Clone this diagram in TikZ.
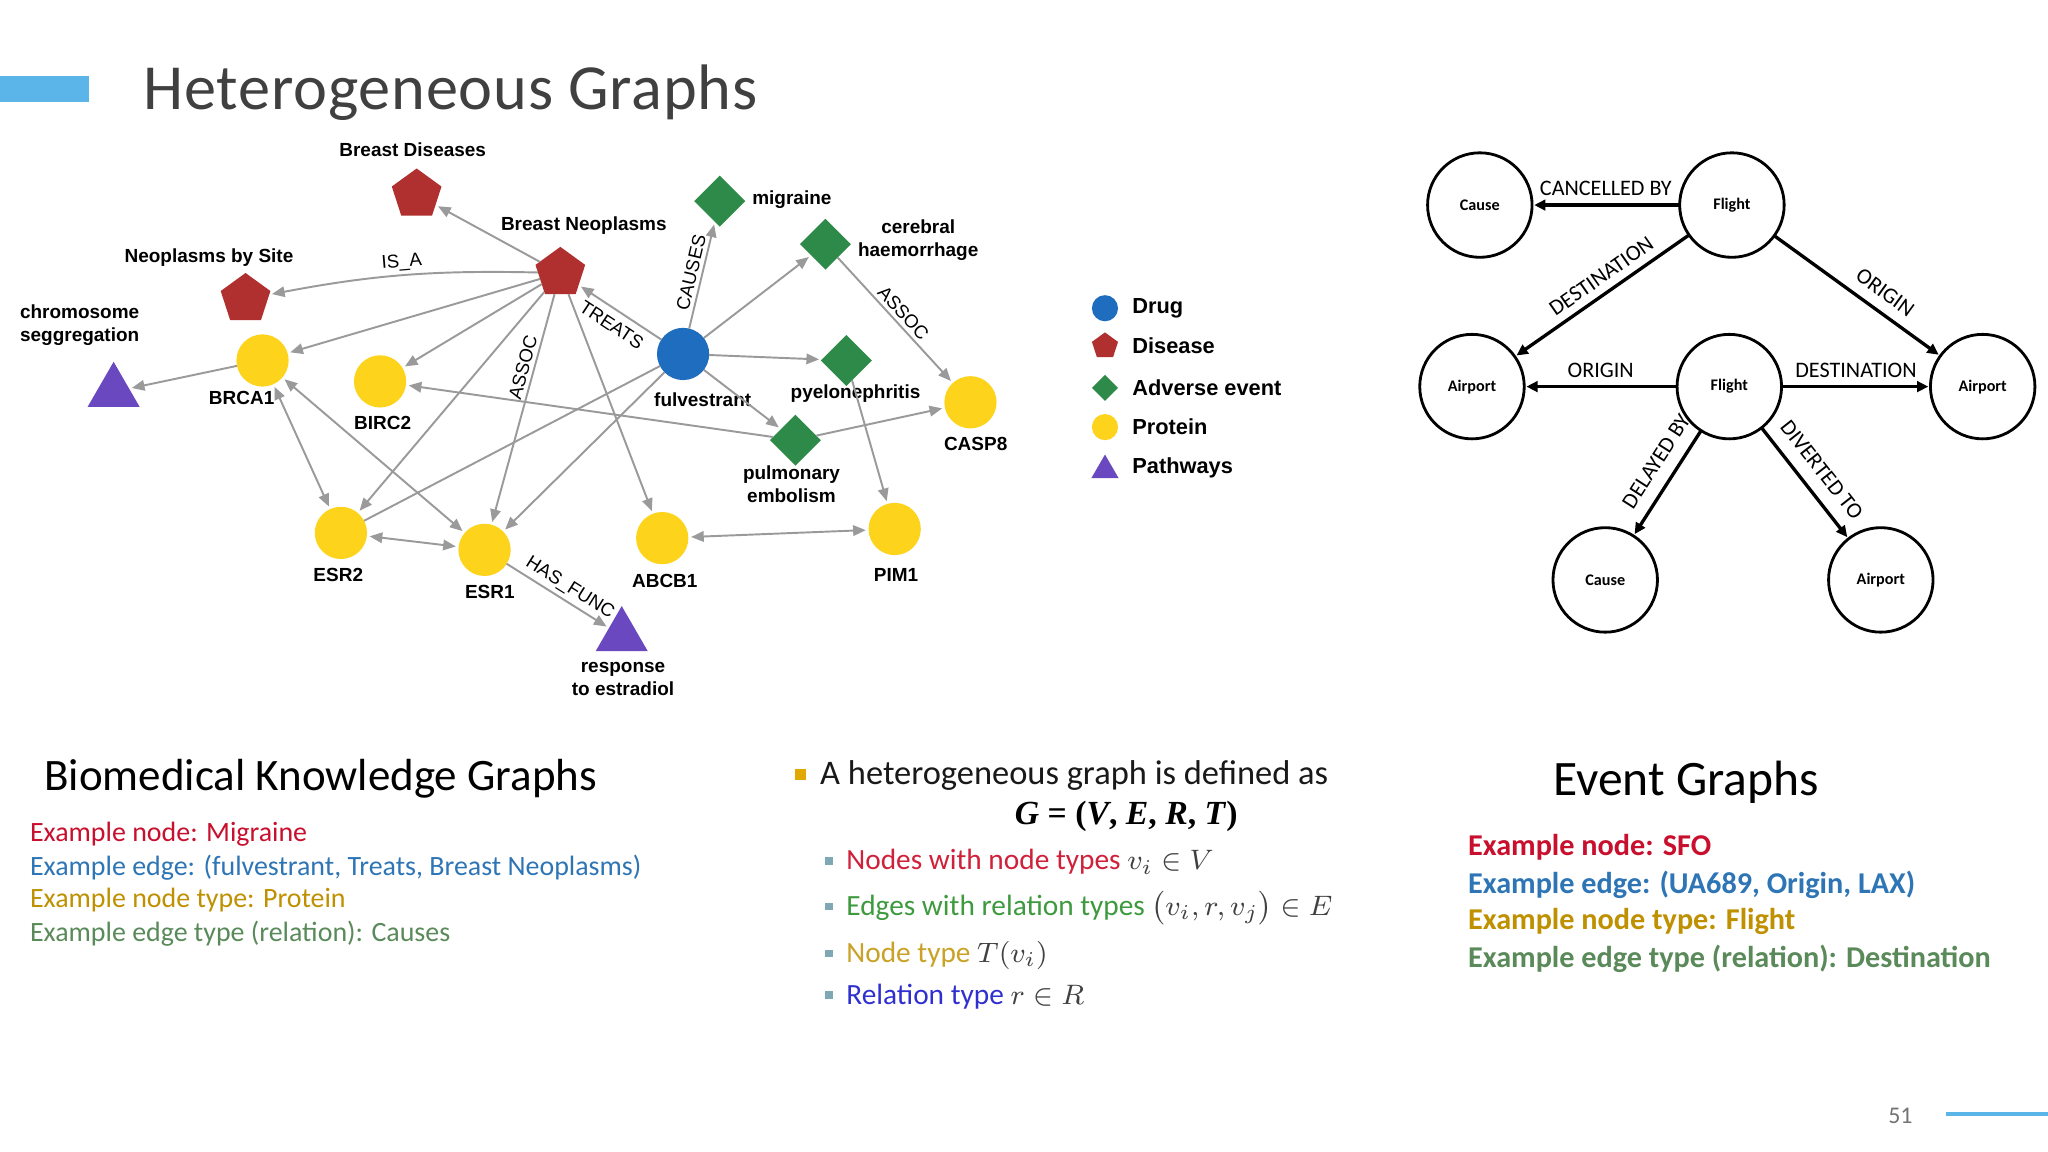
\documentclass[tikz,border=0pt]{standalone}
\usepackage{amsmath}
\usepackage{fontspec}
\setmainfont{Carlito}
\newfontfamily\hv{Liberation Sans}
\newfontfamily\lser{Liberation Serif}
\usetikzlibrary{shapes.geometric,arrows.meta}
\def\pxu{0.0130612cm}
\definecolor{protY}{HTML}{FDD31C}
\definecolor{drugB}{HTML}{1F6DBF}
\definecolor{disR}{HTML}{B02F2F}
\definecolor{advG}{HTML}{2E8A48}
\definecolor{pathP}{HTML}{6A48C0}
\definecolor{edgeG}{HTML}{9A9A9A}
\definecolor{barB}{HTML}{5BB5E8}
\definecolor{titleC}{HTML}{404040}
\definecolor{exRed}{HTML}{C8102E}
\definecolor{exBlue}{HTML}{2E75B6}
\definecolor{exGold}{HTML}{BF9000}
\definecolor{exGreen}{HTML}{5A8A5A}
\definecolor{subRed}{HTML}{D0213A}
\definecolor{subGreen}{HTML}{3E9A3E}
\definecolor{subGold}{HTML}{C9A227}
\definecolor{relBlue}{HTML}{3030D0}
\definecolor{mathC}{HTML}{404040}
\definecolor{bulGold}{HTML}{E0A800}
\definecolor{bulTeal}{HTML}{7FA7B5}
\begin{document}
\begin{tikzpicture}[x=0.0130612cm,y=-0.0130612cm,
  every node/.style={inner sep=0pt,outer sep=0pt},
  prot/.style={circle,fill=protY,minimum size={40*\pxu}},
  drug/.style={circle,fill=drugB,minimum size={40*\pxu}},
  dis/.style={regular polygon,regular polygon sides=5,fill=disR,minimum size={40*\pxu}},
  adv/.style={diamond,fill=advG,minimum width={39*\pxu},minimum height={39*\pxu}},
  pathw/.style={regular polygon,regular polygon sides=3,fill=pathP,minimum size={46*\pxu}},
  glab/.style={font=\hv\bfseries\fontsize{5.4}{6.6}\selectfont,align=center},
  leglab/.style={font=\hv\bfseries\fontsize{6.2}{7}\selectfont,anchor=west},
  elab/.style={font=\hv\fontsize{5.3}{6}\selectfont,sloped,inner sep=1.3pt},
  kg/.style={draw=edgeG,line width=0.55pt,-{Triangle[length=3.6pt,width=3pt]},shorten >=0.8pt},
  kgd/.style={draw=edgeG,line width=0.55pt,{Triangle[length=3.6pt,width=3pt]}-{Triangle[length=3.6pt,width=3pt]},shorten >=0.8pt,shorten <=0.8pt},
  ev/.style={circle,draw=black,line width=0.8pt,minimum size={80*\pxu},font=\bfseries\fontsize{4.6}{5}\selectfont},
  earr/.style={draw=black,line width=0.95pt,-{Triangle[length=3.2pt,width=3pt]},shorten >=0.6pt},
  evlab/.style={font=\fontsize{6.3}{7}\selectfont,sloped,above,inner sep=2.6pt},
  txt/.style={anchor=base west}
]
\useasboundingbox (0,0) rectangle (1568,882);
\fill[white] (0,0) rectangle (1568,882);

% title
\fill[barB] (0,58) rectangle (68,78);
\node[txt,font=\fontsize{18.3}{22}\selectfont\addfontfeatures{LetterSpace=1.2},text=titleC] (title) at (110,84) {Heterogeneous Graphs};

% ---------- biomedical graph nodes ----------
\node[dis] (BD) at (319,149) {};
\node[dis] (BN) at (429,209) {};
\node[dis] (NS) at (188,229) {};
\node[pathw] (CS) at (87,300) {};
\node[prot] (BRCA1) at (201,276) {};
\node[prot] (BIRC2) at (291,292) {};
\node[prot] (ESR2) at (261,408) {};
\node[prot] (ESR1) at (371,421) {};
\node[pathw] (RE) at (476,487) {};
\node[prot] (ABCB1) at (507,412) {};
\node[prot] (PIM1) at (685,405) {};
\node[drug] (FUL) at (523,271) {};
\node[adv] (MIG) at (551,154) {};
\node[adv] (CH) at (632,187) {};
\node[adv] (PYE) at (648,276) {};
\node[adv] (PE) at (609,337) {};
\node[prot] (CASP8) at (743,308) {};

% labels
\node[glab] (lBD) at (316,115) {Breast Diseases};
\node[glab] (lBN) at (447,173) {Breast Neoplasms};
\node[glab] (lNS) at (160,197) {Neoplasms by Site};
\node[glab] (lCS) at (61,249) {chromosome\\seggregation};
\node[glab] (lBRCA1) at (185,305) {BRCA1};
\node[glab] (lBIRC2) at (293,324) {BIRC2};
\node[glab] (lESR2) at (259,440) {ESR2};
\node[glab] (lESR1) at (375,453) {ESR1};
\node[glab] (lRE) at (477,520) {response\\to estradiol};
\node[glab] (lABCB1) at (509,445) {ABCB1};
\node[glab] (lPIM1) at (686,440) {PIM1};
\node[glab] (lFUL) at (538,306) {fulvestrant};
\node[glab,anchor=west] (lMIG) at (576,153) {migraine};
\node[glab] (lCH) at (703,184) {cerebral\\haemorrhage};
\node[glab] (lPYE) at (655,301) {pyelonephritis};
\node[glab] (lPE) at (606,371) {pulmonary\\embolism};
\node[glab] (lCASP8) at (747,340) {CASP8};

% edges
\draw[kg] (BN) -- (BD);
\draw[kg] (BN) to[bend right=6] node[elab,above,pos=0.5] {IS\_A} (NS);
\draw[kg] (BN) -- (BRCA1);
\draw[kg] (BN) -- (BIRC2);
\draw[kg] (BN) -- (ESR2);
\draw[kg] (BN) -- node[elab,above,pos=0.33] {ASSOC} (ESR1);
\draw[kg] (BN) -- (ABCB1);
\draw[kg] (FUL) -- node[elab,below,pos=0.5,inner sep=2.4pt] {TREATS} (BN);
\draw[kg] (FUL) -- node[elab,above,pos=0.5] {CAUSES} (MIG);
\draw[kg] (FUL) -- (CH);
\draw[kg] (FUL) -- (PYE);
\draw[kg] (FUL) -- (PE);
\draw[kg] (FUL) -- (ESR1);
\draw[draw=edgeG,line width=0.55pt] (FUL) -- (ESR2);
\draw[kg] (PE) -- (BIRC2);
\draw[kg] (PE) -- (CASP8);
\draw[kg] (CH) -- node[elab,above,pos=0.5] {ASSOC} (CASP8);
\draw[kg] (PYE) -- (PIM1);
\draw[kgd] (ABCB1) -- (PIM1);
\draw[kg] (BRCA1) -- (CS);
\draw[kgd] (BRCA1) -- (ESR2);
\draw[kgd] (BRCA1) -- (ESR1);
\draw[kgd] (ESR2) -- (ESR1);
\draw[kg] (ESR1) -- node[elab,above,pos=0.55] {HAS\_FUNC} (RE);

% legend
\node[drug,minimum size={20*\pxu}] (kDrug) at (846,236) {};
\node[dis,minimum size={21*\pxu}] (kDis) at (846,265) {};
\node[adv,minimum width={20*\pxu},minimum height={20*\pxu}] (kAdv) at (846,297) {};
\node[prot,minimum size={20*\pxu}] (kProt) at (846,327) {};
\node[pathw,minimum size={24*\pxu}] (kPath) at (846,360) {};
\node[leglab] (tDrug) at (867,236) {Drug};
\node[leglab] (tDis) at (867,265) {Disease};
\node[leglab] (tAdv) at (867,297) {Adverse event};
\node[leglab] (tProt) at (867,327) {Protein};
\node[leglab] (tPath) at (867,358) {Pathways};

% ---------- event graph ----------
\node[ev] (C1) at (1133,157) {Cause};
\node[ev] (F1) at (1326,157) {Flight};
\node[ev] (A1) at (1127,296) {Airport};
\node[ev] (F2) at (1324,296) {Flight};
\node[ev] (A2) at (1518,296) {Airport};
\node[ev] (C2) at (1229,444) {Cause};
\node[ev] (A3) at (1440,444) {Airport};
\draw[earr] (F1) -- node[evlab] {CANCELLED BY} (C1);
\draw[earr] (F1) -- node[evlab,pos=0.45] {DESTINATION} (A1);
\draw[earr] (F1) -- node[evlab,pos=0.6,inner sep=3.4pt] {ORIGIN} (A2);
\draw[earr] (F2) -- node[evlab] {ORIGIN} (A1);
\draw[earr] (F2) -- node[evlab] {DESTINATION} (A2);
\draw[earr] (F2) -- node[evlab,pos=0.4,inner sep=4pt] {DELAYED BY} (C2);
\draw[earr] (F2) -- node[evlab,pos=0.5,inner sep=4pt] {DIVERTED TO} (A3);

% ---------- bottom texts ----------
\node[txt,font=\fontsize{12.8}{15}\selectfont] (hBio) at (34,605) {Biomedical Knowledge Graphs};
\node[txt,font=\fontsize{7.95}{9}\selectfont,text=exRed] (b1) at (23,644) {Example node: Migraine};
\node[txt,font=\fontsize{7.95}{9}\selectfont,text=exBlue] (b2) at (23,670) {Example edge: (fulvestrant, Treats, Breast Neoplasms)};
\node[txt,font=\fontsize{7.95}{9}\selectfont,text=exGold] (b3) at (23,695) {Example node type: Protein};
\node[txt,font=\fontsize{7.95}{9}\selectfont,text=exGreen] (b4) at (23,721) {Example edge type (relation): Causes};

\fill[bulGold] (609,589) rectangle (617,597);
\node[txt,font=\fontsize{9.8}{11}\selectfont,text=black!90] (hDef) at (628,601) {A heterogeneous graph is defined as};
\node[txt,font=\lser\bfseries\fontsize{9.6}{12}\selectfont] (gEq) at (777,631) {\textit{G} = (\textit{V}, \textit{E}, \textit{R}, \textit{T})};
\fill[bulTeal] (632,656) rectangle (638,662);
\fill[bulTeal] (632,691) rectangle (638,697);
\fill[bulTeal] (632,727) rectangle (638,733);
\fill[bulTeal] (632,759) rectangle (638,765);
\node[txt,font=\fontsize{8.35}{10}\selectfont,text=subRed] (s1) at (648,666) {Nodes with node types \textcolor{mathC}{$v_i\in V$}};
\node[txt,font=\fontsize{8.35}{10}\selectfont,text=subGreen] (s2) at (648,701) {Edges with relation types \textcolor{mathC}{$\bigl(v_i,r,v_j\bigr)\in E$}};
\node[txt,font=\fontsize{8.35}{10}\selectfont,text=subGold] (s3) at (648,737) {Node type \textcolor{mathC}{$T(v_i)$}};
\node[txt,font=\fontsize{8.35}{10}\selectfont,text=relBlue] (s4) at (648,769) {Relation type \textcolor{mathC}{$r\in R$}};

\node[anchor=base,font=\fontsize{14.1}{16}\selectfont] (hEv) at (1291,609) {Event Graphs};
\node[txt,font=\bfseries\fontsize{8.6}{10}\selectfont,text=exRed] (e1) at (1124,655) {Example node: SFO};
\node[txt,font=\bfseries\fontsize{8.6}{10}\selectfont,text=exBlue] (e2) at (1124,684) {Example edge: (UA689, Origin, LAX)};
\node[txt,font=\bfseries\fontsize{8.6}{10}\selectfont,text=exGold] (e3) at (1124,712) {Example node type: Flight};
\node[txt,font=\bfseries\fontsize{8.6}{10}\selectfont,text=exGreen] (e4) at (1124,741) {Example edge type (relation): Destination};

% page number
\node[font=\fontsize{6.8}{8}\selectfont,text=black!55] (pg) at (1455,854) {51};
\draw[barB,line width=1.1pt] (1490,853) -- (1568,853);
\end{tikzpicture}
\end{document}
